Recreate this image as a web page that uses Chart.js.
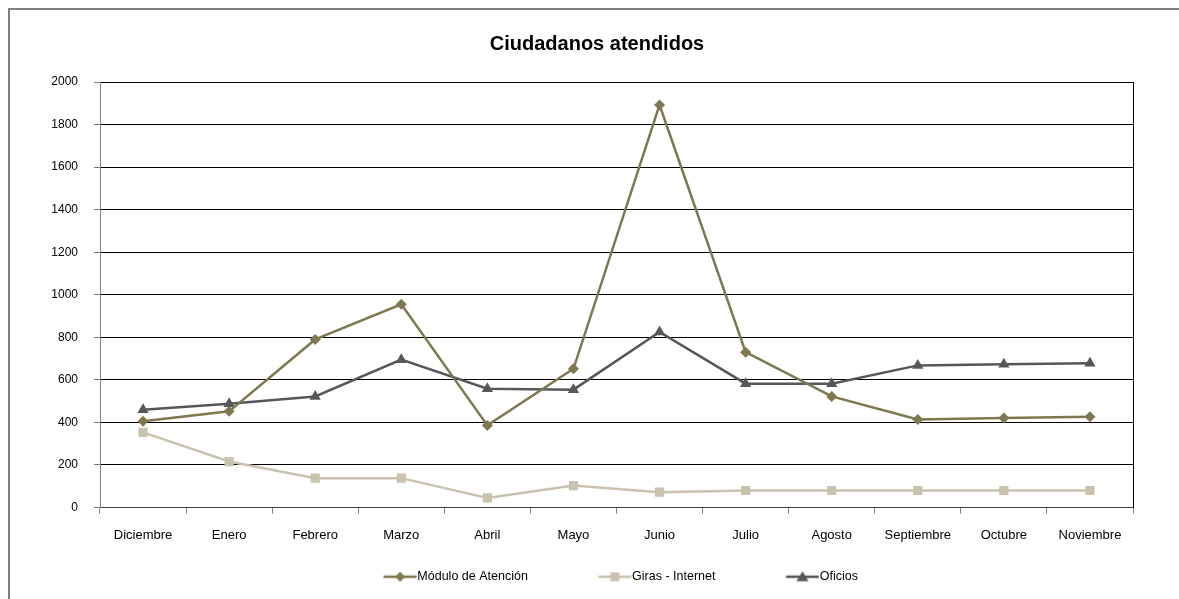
<!DOCTYPE html>
<html>
<head>
<meta charset="utf-8">
<script src="https://cdn.jsdelivr.net/npm/chart.js@4/dist/chart.umd.min.js"></script>
<style>
  html, body { margin: 0; padding: 0; background: #fff; }
  #wrap { position: relative; width: 1179px; height: 599px; overflow: hidden; }
  #frame { position: absolute; left: 8px; top: 8px; width: 1300px; height: 700px;
           border-left: 2px solid #808080; border-top: 2px solid #808080; }
  #title { position: absolute; left: 0; top: 32px; width: 1194px; text-align: center;
           font: bold 20px "Liberation Sans", Arial, sans-serif; color: #000; }
  canvas { position: absolute; left: 0; top: 0; }
</style>
</head>
<body>
<div id="wrap">
  <div id="frame"></div>
  <canvas id="myChart" width="1179" height="599"></canvas>
  <div id="title">Ciudadanos atendidos</div>
</div>
<script>
const months = ['Diciembre', 'Enero', 'Febrero', 'Marzo', 'Abril', 'Mayo', 'Junio',
                'Julio', 'Agosto', 'Septiembre', 'Octubre', 'Noviembre'];
const modulo = [405, 452, 790, 955, 386, 652, 1892, 730, 522, 414, 421, 426];
const giras = [353, 216, 138, 138, 45, 103, 72, 80, 80, 80, 80, 80];
const oficios = [460, 488, 522, 695, 558, 554, 825, 582, 582, 668, 673, 678];
const yTicks = [0, 200, 400, 600, 800, 1000, 1200, 1400, 1600, 1800, 2000];

const olive = '#7d784f';
const beige = '#c8c2ae';
const slate = '#55575a';

// legend box is wider than the visible line so items sit far apart
const boxW = 90;

// little line+marker pictures for the legend, the line ends right before the text
function legendIcon(color, shape) {
    const c = document.createElement('canvas');
    c.width = boxW + 12;
    c.height = 14;
    const g = c.getContext('2d');
    const end = boxW + 11.5;
    g.strokeStyle = color;
    g.fillStyle = color;
    g.lineWidth = 2.5;
    g.beginPath();
    g.moveTo(end - 33, 7);
    g.lineTo(end, 7);
    g.stroke();
    const cx = end - 16.5, cy = 7;
    g.beginPath();
    if (shape === 'diamond') {
        g.moveTo(cx, cy - 5); g.lineTo(cx + 5, cy); g.lineTo(cx, cy + 5); g.lineTo(cx - 5, cy);
    } else if (shape === 'square') {
        g.rect(cx - 4.5, cy - 4.5, 9, 9);
    } else {
        g.moveTo(cx, cy - 5.5); g.lineTo(cx + 6, cy + 4.5); g.lineTo(cx - 6, cy + 4.5);
    }
    g.closePath();
    g.fill();
    return c;
}

const icons = [
    legendIcon(olive, 'diamond'),
    legendIcon(beige, 'square'),
    legendIcon(slate, 'triangle')
];

const ctx = document.getElementById('myChart');
const myChart = new Chart(ctx, {
    type: 'line',
    data: {
        labels: months,
        datasets: [
            {
                label: 'Módulo de Atención',
                data: modulo,
                borderColor: olive,
                backgroundColor: olive,
                borderWidth: 2.5,
                pointStyle: 'rectRot',
                pointRadius: 5.5,
                pointBorderWidth: 0,
                tension: 0
            },
            {
                label: 'Giras - Internet',
                data: giras,
                borderColor: beige,
                backgroundColor: beige,
                borderWidth: 2.5,
                pointStyle: 'rect',
                pointRadius: 6.5,
                pointBorderWidth: 0,
                tension: 0
            },
            {
                label: 'Oficios',
                data: oficios,
                borderColor: slate,
                backgroundColor: slate,
                borderWidth: 2.5,
                pointStyle: 'triangle',
                pointRadius: 6.5,
                pointBorderWidth: 0,
                tension: 0
            }
        ]
    },
    options: {
        responsive: false,
        animation: false,
        layout: { padding: { left: 0, right: 0, top: 82, bottom: 6 } },
        plugins: {
            title: { display: false },
            tooltip: { enabled: false },
            legend: {
                position: 'bottom',
                labels: {
                    usePointStyle: true,
                    pointStyleWidth: boxW,
                    padding: 8,
                    color: '#000',
                    font: { family: '"Liberation Sans", Arial, sans-serif', size: 12.5 },
                    generateLabels(chart) {
                        const items = Chart.defaults.plugins.legend.labels.generateLabels(chart);
                        items.forEach((it, i) => { it.pointStyle = icons[i]; });
                        return items;
                    }
                }
            }
        },
        scales: {
            x: {
                offset: true,
                grid: { offset: true, drawOnChartArea: false, tickLength: 6, color: '#808080' },
                border: { color: '#404040' },
                ticks: {
                    color: '#000',
                    padding: 14,
                    maxRotation: 0,
                    font: { family: '"Liberation Sans", Arial, sans-serif', size: 13 }
                },
                afterFit(scale) { scale.height = 55; }
            },
            y: {
                min: 0,
                max: 2000,
                afterBuildTicks(scale) { scale.ticks = yTicks.map(v => ({ value: v })); },
                grid: { color: '#000', tickLength: 6, tickColor: '#808080' },
                border: { color: '#808080' },
                ticks: {
                    color: '#000',
                    padding: 16,
                    callback: v => String(v),
                    font: { family: '"Liberation Sans", Arial, sans-serif', size: 12 }
                },
                afterFit(scale) { scale.width = 100; }
            },
            y2: {
                position: 'right',
                min: 0,
                max: 2000,
                grid: { display: false },
                border: { display: true, color: '#000' },
                ticks: { display: false },
                afterFit(scale) { scale.width = 46; }
            }
        }
    }
});
</script>
</body>
</html>
